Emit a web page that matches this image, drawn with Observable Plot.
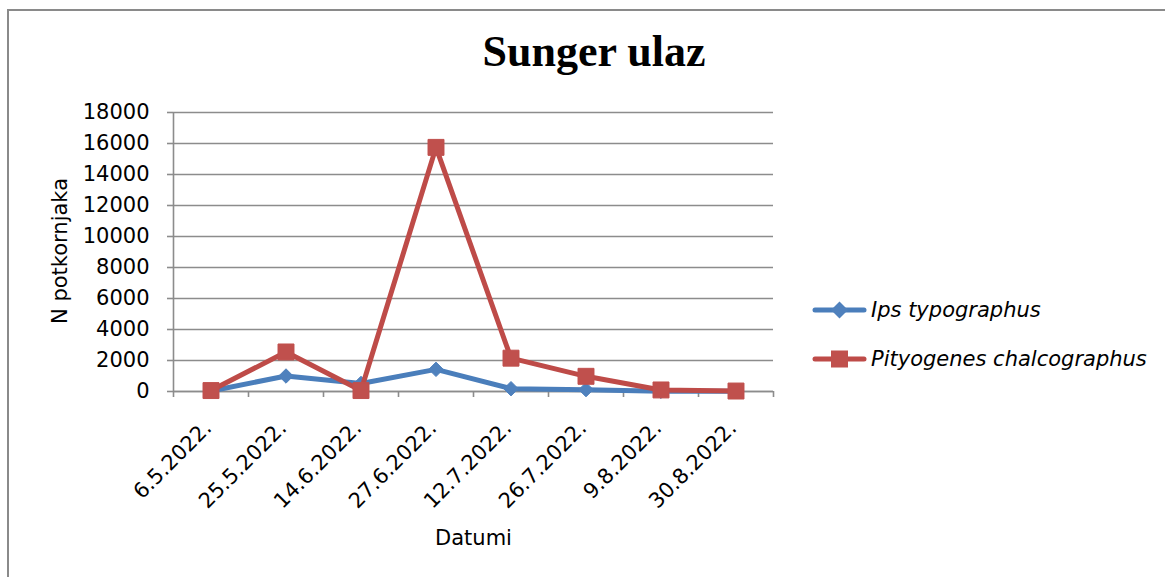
<!DOCTYPE html>
<html>
<head>
<meta charset="utf-8">
<script src="https://cdn.jsdelivr.net/npm/d3@7"></script>
<script src="https://cdn.jsdelivr.net/npm/@observablehq/plot@0.6"></script>
<style>
  body { margin: 0; background: #fff; }
  #wrap { position: relative; width: 1165px; height: 577px; overflow: hidden; font-family: "DejaVu Sans", sans-serif; }
  #frame { position: absolute; left: 7px; top: 9px; width: 1300px; height: 700px; border-left: 2px solid #8a8a8a; border-top: 2px solid #8a8a8a; }
  #title { position: absolute; left: 594px; top: 30px; transform: translateX(-50%); font-family: "Liberation Serif", "Times New Roman", serif; font-weight: bold; font-size: 44px; line-height: 44px; white-space: nowrap; color: #000; }
  #chart { position: absolute; left: 0; top: 0; }
  .lg { position: absolute; left: 812px; height: 30px; display: flex; align-items: center; font-style: italic; font-size: 21px; white-space: nowrap; color: #000; }
  .lg svg { margin-right: 4px; }
</style>
</head>
<body>
<div id="wrap">
  <div id="frame"></div>
  <div id="chart"></div>
  <div id="title">Sunger ulaz</div>
</div>
<script>
// ---- data ----
const dates = ["6.5.2022.", "25.5.2022.", "14.6.2022.", "27.6.2022.", "12.7.2022.", "26.7.2022.", "9.8.2022.", "30.8.2022."];
const ips = [30, 1000, 520, 1430, 180, 120, 10, 10];
const pity = [60, 2550, 60, 15750, 2150, 980, 100, 30];
const seriesNames = ["Ips typographus", "Pityogenes chalcographus"];
const yTicks = [0, 2000, 4000, 6000, 8000, 10000, 12000, 14000, 16000, 18000];
const yLabel = "N potkornjaka";
const xLabel = "Datumi";

const lineColors = ["#4A7EBB", "#BE4B48"];
const markColors = ["#4F81BD", "#C0504D"];
const gridColor = "#8c8c8c";

const idx = dates.map((d, i) => i);
const ipsData = idx.map(i => ({i, date: dates[i], value: ips[i]}));
const pityData = idx.map(i => ({i, date: dates[i], value: pity[i]}));
const bounds = dates.map((d, i) => i - 0.5).concat([dates.length - 0.5]);

const plot = Plot.plot({
  width: 1165,
  height: 577,
  marginLeft: 173,
  marginRight: 392,
  marginTop: 112,
  marginBottom: 186,
  style: { fontFamily: "DejaVu Sans", fontSize: "21px", color: "#000", background: "transparent", overflow: "visible" },
  x: { type: "linear", domain: [-0.5, dates.length - 0.5] },
  y: { domain: [0, 18000] },
  marks: [
    Plot.gridY(yTicks, { stroke: gridColor, strokeOpacity: 1, strokeWidth: 1.6 }),
    Plot.ruleX([-0.5], { stroke: gridColor, strokeWidth: 1.6 }),
    Plot.ruleY([0], { stroke: gridColor, strokeWidth: 1.6 }),
    Plot.axisY(yTicks, { tickSize: 6, tickPadding: 18, stroke: gridColor, strokeWidth: 1.6, label: null, tickFormat: d => String(d), fontSize: 21 }),
    Plot.axisX(bounds, { tickSize: 6, stroke: gridColor, strokeWidth: 1.6, tickFormat: () => "", label: null }),
    Plot.text(idx, { x: d => d, text: d => dates[d], frameAnchor: "bottom", rotate: -45, textAnchor: "end", lineAnchor: "middle", dy: 33, dx: -3, fontSize: 21 }),
    Plot.text([yLabel], { text: d => d, frameAnchor: "left", rotate: -90, dx: -113, dy: 72, fontSize: 21 }),
    Plot.text([xLabel], { text: d => d, frameAnchor: "bottom", dy: 153, fontSize: 21 }),
    Plot.line(ipsData, { x: "i", y: "value", stroke: lineColors[0], strokeWidth: 5, strokeLinejoin: "round", strokeLinecap: "round" }),
    Plot.dot(ipsData, { x: "i", y: "value", symbol: "diamond2", r: 6.5, fill: markColors[0], stroke: markColors[0], strokeWidth: 1 }),
    Plot.line(pityData, { x: "i", y: "value", stroke: lineColors[1], strokeWidth: 5, strokeLinejoin: "round", strokeLinecap: "round" }),
    Plot.dot(pityData, { x: "i", y: "value", symbol: "square", r: 9, fill: markColors[1], stroke: markColors[1], strokeWidth: 1 })
  ]
});
document.getElementById("chart").appendChild(plot);

// ---- legend ----
const wrap = document.getElementById("wrap");
const legendY = [310, 359];
seriesNames.forEach((name, k) => {
  const row = document.createElement("div");
  row.className = "lg";
  row.style.top = (legendY[k] - 15) + "px";
  const marker = k === 0
    ? `<rect x="${27.5 - 6}" y="${15 - 6}" width="12" height="12" transform="rotate(45 27.5 15)" fill="${markColors[0]}"/>`
    : `<rect x="${27.5 - 8.5}" y="${15 - 8.5}" width="17" height="17" fill="${markColors[1]}"/>`;
  row.innerHTML = `<svg width="55" height="30"><line x1="3" x2="52" y1="15" y2="15" stroke="${lineColors[k]}" stroke-width="5" stroke-linecap="round"/>${marker}</svg><span>${name}</span>`;
  wrap.appendChild(row);
});
</script>
</body>
</html>
